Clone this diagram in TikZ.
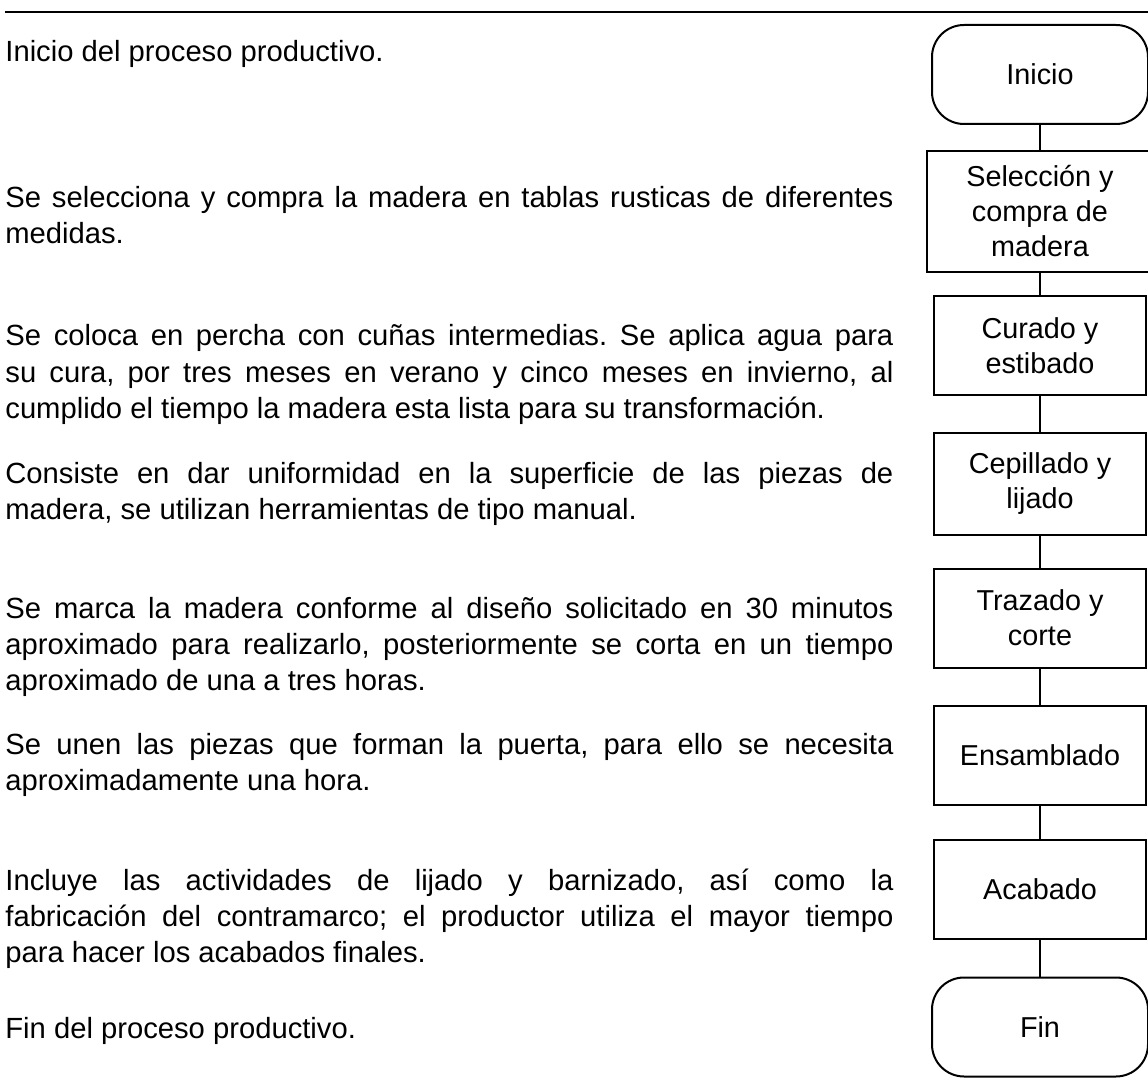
\documentclass[tikz,border=0pt]{standalone}
\usepackage{fontspec}
\setmainfont{Liberation Sans}
\frenchspacing
\begin{document}
\begin{tikzpicture}[x=0.5pt, y=-0.5pt,
    texto/.style={anchor=base west, inner sep=0pt, text width=444pt, align=justify, font=\fontsize{14.6pt}{18pt}\selectfont},
    paso/.style={rectangle, draw, line width=1pt, minimum width=106pt, minimum height=49.5pt, inner sep=2pt, align=center, font=\fontsize{14.4pt}{17.5pt}\selectfont},
    terminal/.style={paso, rounded corners=16pt, minimum width=108pt},
    linea/.style={line width=1pt}]
    \useasboundingbox (0,0) rectangle (1148,1081);

    % Linea superior
    \draw[line width=1.4pt] (5,12) -- (1148,12);

    % Descripciones
    \node[texto] (t1) at (5,62) {Inicio del proceso productivo.};
    \node[texto] (t2) at (5,208) {Se selecciona y compra la madera en tablas rusticas de diferentes\linebreak medidas.};
    \node[texto] (t3) at (5,346) {Se coloca en percha con cuñas intermedias. Se aplica agua para\linebreak su cura, por tres meses en verano y cinco meses en invierno, al\linebreak cumplido el tiempo la madera esta lista para su transformación.};
    \node[texto] (t4) at (5,483) {Consiste en dar uniformidad en la superficie de las piezas de\linebreak madera, se utilizan herramientas de tipo manual.};
    \node[texto] (t5) at (5,618) {Se marca la madera conforme al diseño solicitado en 30 minutos\linebreak aproximado para realizarlo, posteriormente se corta en un tiempo\linebreak aproximado de una a tres horas.};
    \node[texto] (t6) at (5,754) {Se unen las piezas que forman la puerta, para ello se necesita\linebreak aproximadamente una hora.};
    \node[texto] (t7) at (5,890) {Incluye las actividades de lijado y barnizado, así como la\linebreak fabricación del contramarco; el productor utiliza el mayor tiempo\linebreak para hacer los acabados finales.};
    \node[texto] (t8) at (5,1038) {Fin del proceso productivo.};

    % Diagrama de flujo
    \node[terminal] (inicio) at (1040,74.5) {Inicio};
    \node[paso, minimum width=113pt, minimum height=60.5pt] (seleccion) at (1040,211.5) {Selección y\\compra de\\madera};
    \node[paso] (curado) at (1040,345.5) {Curado y\\estibado};
    \node[paso, minimum height=51pt] (cepillado) at (1040,484) {Cepillado y\\lijado};
    \node[paso] (trazado) at (1040,618) {Trazado y\\corte};
    \node[paso] (ensamblado) at (1040,755) {Ensamblado};
    \node[paso] (acabado) at (1040,889) {Acabado};
    \node[terminal] (fin) at (1040,1027) {Fin};

    % Conectores
    \draw[linea] (inicio) -- (seleccion);
    \draw[linea] (seleccion) -- (curado);
    \draw[linea] (curado) -- (cepillado);
    \draw[linea] (cepillado) -- (trazado);
    \draw[linea] (trazado) -- (ensamblado);
    \draw[linea] (ensamblado) -- (acabado);
    \draw[linea] (acabado) -- (fin);
\end{tikzpicture}
\end{document}
